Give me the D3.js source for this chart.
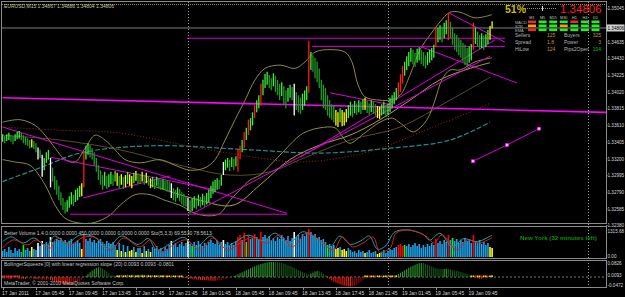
<!DOCTYPE html>
<html>
<head>
<meta charset="utf-8">
<script src="https://cdn.jsdelivr.net/npm/d3@7"></script>
<style>
  html, body { margin: 0; padding: 0; background: #000; }
  svg { display: block; }
  text { font-family: "Liberation Sans", Arial, sans-serif; }
</style>
</head>
<body>
<div id="chart"></div>
<script>
var width = 625, height = 297;

// EURUSD M15 bars, first bar 17 Jan 01:45
var barHigh = [
  1.3350,1.3348,1.3350,1.3352,1.3349,1.3348,1.3350,1.3353,1.3354,1.3352,
  1.3349,1.3347,1.3345,1.3343,1.3344,1.3342,1.3339,1.3334,1.3331,1.3325,
  1.3321,1.3328,1.3331,1.3321,1.3309,1.3299,1.3294,1.3287,1.3279,1.3272,
  1.3267,1.3269,1.3274,1.3279,1.3276,1.3282,1.3284,1.3287,1.3290,1.3328,
  1.3336,1.3339,1.3337,1.3333,1.3328,1.3321,1.3312,1.3306,1.3300,1.3304,
  1.3299,1.3301,1.3304,1.3300,1.3305,1.3303,1.3299,1.3301,1.3298,1.3300,
  1.3304,1.3301,1.3299,1.3303,1.3305,1.3302,1.3301,1.3304,1.3300,1.3303,1.3299,
  1.3296,1.3298,1.3295,1.3298,1.3296,1.3294,1.3295,1.3293,1.3294,1.3292,
  1.3290,1.3284,1.3282,1.3285,1.3283,1.3279,1.3277,1.3274,1.3272,1.3269,
  1.3271,1.3274,1.3272,1.3276,1.3273,1.3277,1.3274,1.3278,1.3282,1.3287,
  1.3292,1.3294,1.3296,1.3294,1.3300,1.3316,1.3319,1.3321,1.3319,1.3322,1.3320,
  1.3323,1.3331,1.3336,1.3343,1.3353,1.3358,1.3368,1.3370,1.3377,1.3386,
  1.3392,1.3398,1.3412,1.3417,1.3424,1.3427,1.3423,1.3419,1.3425,1.3422,
  1.3417,1.3412,1.3414,1.3409,1.3404,1.3407,1.3411,1.3408,1.3412,1.3402,
  1.3398,1.3395,1.3400,1.3404,1.3409,1.3465,1.3451,1.3447,1.3444,1.3439,
  1.3431,1.3417,1.3411,1.3407,1.3398,1.3392,1.3387,1.3385,1.3380,1.3377,
  1.3382,1.3380,1.3377,1.3381,1.3386,1.3390,1.3387,1.3391,1.3388,1.3392,
  1.3390,1.3393,1.3395,1.3391,1.3388,1.3392,1.3390,1.3387,1.3385,1.3384,1.3387,
  1.3390,1.3386,1.3388,1.3395,1.3398,1.3402,1.3407,1.3414,1.3424,1.3434,
  1.3439,1.3446,1.3451,1.3456,1.3454,1.3450,1.3455,1.3457,1.3454,1.3451,
  1.3447,1.3451,1.3454,1.3456,1.3460,1.3482,1.3481,1.3484,1.3482,1.3487,
  1.3490,1.3499,1.3488,1.3481,1.3474,1.3472,1.3468,1.3466,1.3462,1.3460,
  1.3456,1.3458,1.3461,1.3487,1.3481,1.3476,1.3472,1.3474,1.3471,1.3473,
  1.3478,1.3483,1.3489
];
var barLow = [
  1.3341,1.3339,1.3342,1.3343,1.3341,1.3338,1.3342,1.3344,1.3345,1.3343,
  1.3339,1.3337,1.3336,1.3333,1.3334,1.3332,1.3328,1.3319,1.3321,1.3298,
  1.3306,1.3315,1.3319,1.3285,1.3292,1.3282,1.3276,1.3269,1.3263,1.3257,
  1.3253,1.3255,1.3260,1.3264,1.3262,1.3267,1.3269,1.3273,1.3274,1.3285,
  1.3319,1.3325,1.3322,1.3319,1.3312,1.3304,1.3294,1.3288,1.3282,1.3287,
  1.3283,1.3285,1.3289,1.3287,1.3292,1.3287,1.3284,1.3288,1.3283,1.3285,
  1.3289,1.3287,1.3284,1.3290,1.3293,1.3289,1.3289,1.3292,1.3288,1.3290,1.3287,
  1.3284,1.3285,1.3283,1.3287,1.3284,1.3282,1.3283,1.3282,1.3280,1.3279,
  1.3272,1.3269,1.3267,1.3272,1.3268,1.3264,1.3262,1.3261,1.3256,1.3253,
  1.3256,1.3260,1.3258,1.3262,1.3260,1.3263,1.3261,1.3264,1.3267,1.3272,
  1.3277,1.3279,1.3282,1.3283,1.3287,1.3300,1.3306,1.3309,1.3305,1.3310,1.3306,
  1.3311,1.3304,1.3319,1.3328,1.3333,1.3343,1.3349,1.3355,1.3361,1.3370,
  1.3377,1.3382,1.3385,1.3398,1.3407,1.3411,1.3407,1.3404,1.3409,1.3402,
  1.3398,1.3392,1.3397,1.3386,1.3382,1.3390,1.3395,1.3392,1.3373,1.3380,
  1.3377,1.3375,1.3380,1.3385,1.3392,1.3401,1.3429,1.3427,1.3419,1.3414,
  1.3407,1.3392,1.3382,1.3380,1.3373,1.3370,1.3368,1.3365,1.3361,1.3359,
  1.3365,1.3360,1.3361,1.3365,1.3370,1.3373,1.3371,1.3376,1.3374,1.3377,
  1.3375,1.3380,1.3380,1.3376,1.3374,1.3377,1.3375,1.3373,1.3370,1.3369,1.3373,
  1.3375,1.3371,1.3374,1.3377,1.3382,1.3387,1.3392,1.3397,1.3402,1.3412,
  1.3422,1.3429,1.3434,1.3439,1.3436,1.3433,1.3438,1.3441,1.3436,1.3434,
  1.3431,1.3435,1.3438,1.3441,1.3444,1.3457,1.3463,1.3466,1.3463,1.3468,
  1.3473,1.3466,1.3468,1.3460,1.3454,1.3451,1.3447,1.3444,1.3439,1.3435,
  1.3433,1.3438,1.3441,1.3454,1.3461,1.3457,1.3454,1.3456,1.3454,1.3457,
  1.3461,1.3466,1.3480
];
// g normal, l green, y yellow, w white, r red (Better Volume colouring)
var barColors = [
  "gggggggggg","lgggyggwgw","gggwgggggg","ggggggggyr","gggggggggg","gggggygygy",
  "gyygyggygyg","yggggggggg","wgggggggwg","lggggggggg","gggggwggggg","grrgrlrggr",
  "ggrggggggg","ggggggggwg","gggggrgggg","gggglgggyy","gyyygggggg","ggygggggyyg",
  "gggggggrrr","lggggggggg","gggggrgggg","grglgggggg","gggrgggggg","gyy"
].join("");
var volumes = [
  282,376,235,470,329,188,423,282,376,235, 564,329,423,282,470,376,329,658,517,752,
  611,705,564,940,705,752,846,799,893,705, 799,658,752,846,611,705,799,658,376,1081,
  846,752,893,705,799,658,752,846,705,611, 752,658,611,705,564,329,658,282,564,235,
  517,282,329,470,235,423,423,188,517,282,376, 235,470,376,517,329,423,282,470,376,564,
  752,564,658,470,611,705,517,658,846,611, 517,705,564,752,611,517,658,564,705,799,
  658,611,752,564,705,799,611,705,517,658,564, 752,940,1034,799,1128,705,1034,846,893,1081,
  940,846,1175,940,1034,846,987,799,893,752, 940,846,1034,893,799,987,752,893,1175,940,
  1034,846,1081,987,1128,1315,1175,987,1081,893, 940,799,846,705,564,611,517,564,376,423,
  470,329,376,282,423,329,235,282,188,329, 235,282,188,235,329,188,235,282,141,188,235,
  329,188,282,376,329,423,470,564,611,517, 564,517,611,470,564,658,517,611,423,564,
  470,611,517,658,564,846,658,752,611,799, 705,1034,799,893,752,846,658,799,705,893,
  752,846,658,1034,752,658,799,611,705,564, 658,470,423
];
var sqzValues = [
  -0.008,-0.010,-0.009,-0.011,-0.012,-0.010,-0.009,-0.008,-0.010,-0.011,
  -0.012,-0.013,-0.011,-0.010,-0.009,-0.010,-0.012,-0.014,-0.013,-0.015,
  -0.014,-0.016,-0.015,-0.018,-0.022,-0.026,-0.030,-0.034,-0.038,-0.041,
  -0.044,-0.046,-0.047,-0.046,-0.044,-0.040,-0.034,-0.026,-0.017,-0.006,
  0.008,0.018,0.028,0.038,0.046,0.053,0.058,0.056,0.050,0.042,
  0.032,0.022,0.014,0.010,0.008,0.009,0.011,0.012,0.010,0.011,
  0.013,0.012,0.014,0.013,0.012,0.013,0.014,0.015,0.013,0.012,0.014,
  0.013,0.011,0.012,0.010,0.011,0.009,0.010,0.008,0.007,0.006,
  0.004,0.003,0.002,0.001,-0.001,-0.003,-0.005,-0.007,-0.009,-0.011,
  -0.013,-0.014,-0.015,-0.016,-0.017,-0.018,-0.019,-0.020,-0.021,-0.022,
  -0.022,-0.022,-0.021,-0.019,-0.017,-0.014,-0.011,-0.008,-0.005,-0.001,0.004,
  0.010,0.016,0.022,0.028,0.034,0.040,0.046,0.052,0.058,0.063,
  0.068,0.072,0.076,0.080,0.083,0.086,0.088,0.089,0.089,0.088,
  0.087,0.085,0.082,0.079,0.075,0.070,0.065,0.059,0.054,0.048,
  0.042,0.036,0.030,0.025,0.020,0.016,0.020,0.026,0.032,0.036,
  0.034,0.028,0.018,0.008,-0.004,-0.012,-0.019,-0.026,-0.032,-0.038,
  -0.043,-0.047,-0.050,-0.053,-0.055,-0.056,-0.055,-0.052,-0.046,-0.038,
  -0.028,-0.018,-0.010,-0.006,-0.004,-0.003,-0.003,-0.002,0.002,0.003,0.002,
  0.004,0.003,0.005,0.004,0.006,0.008,0.012,0.018,0.025,0.032,
  0.040,0.047,0.054,0.060,0.066,0.072,0.077,0.081,0.083,0.082,
  0.078,0.073,0.067,0.062,0.057,0.052,0.049,0.047,0.046,0.047,
  0.048,0.047,0.045,0.042,0.039,0.037,0.034,0.030,0.026,0.021,
  0.016,0.011,0.005,0.000,-0.004,-0.008,-0.010,-0.011,-0.009,-0.006,
  -0.002,0.004,0.0093
];
var sqzDotRanges = [[0, 8, "#ff3030"], [55, 86, "#e8e800"], [174, 189, "#e8e800"], [225, 235, "#e8e800"]];

// stochastic turning points [bar, value]
var stochMain = [[0,32],[5,61],[12,43],[16,61],[23,32],[26,68],[32,43],[39,71],[45,68],[52,25],[58,68],
  [66,36],[71,61],[76,18],[82,43],[88,61],[95,25],[101,68],[108,25],[114,50],[120,71],[127,50],[133,79],
  [139,36],[146,86],[152,61],[159,25],[163,71],[168,36],[173,50],[178,71],[181,18],[186,32],[189,86],
  [196,96],[204,71],[207,50],[211,79],[218,25],[223,61],[229,50],[235,69.6]];
var stochSignal = [[0,55],[4,72],[10,50],[15,68],[21,40],[25,75],[31,50],[37,78],[44,72],[50,30],[57,75],
  [65,45],[70,66],[74,25],[81,50],[87,70],[93,35],[100,75],[106,35],[112,55],[118,78],[125,58],[131,85],
  [137,45],[144,90],[150,70],[157,35],[162,75],[167,45],[172,58],[176,75],[180,28],[184,40],[188,88],
  [194,97],[202,80],[205,60],[210,85],[216,35],[221,65],[228,55],[235,78.6]];

// indicator curves [bar, price]
var bbUpper = [[0,1.3365],[8.4,1.3368],[15.6,1.3361],[20.4,1.3349],[25.2,1.3333],[30,1.3319],[34.8,1.3316],
  [39.6,1.3333],[44.4,1.3349],[49.2,1.3343],[54,1.3331],[58.8,1.3319],[66,1.3315],[75.6,1.3319],[82.8,1.3312],
  [90,1.3306],[97.2,1.3309],[102,1.3319],[106.8,1.3343],[111.6,1.3368],[116.4,1.3392],[121.2,1.3417],
  [126,1.3431],[133.2,1.3435],[140.4,1.3431],[145.2,1.3439],[150,1.3451],[157.2,1.3454],[164.4,1.3451],
  [167.7,1.3439],[170.6,1.3411],[174,1.3396],[181.2,1.3392],[186,1.3392],[190.8,1.3398],[195.6,1.3423],
  [200.4,1.3454],[205.2,1.3472],[210,1.3488],[214.8,1.3500],[219.6,1.3500],[226.8,1.3493],[235,1.3497]];
var bbLower = [[0,1.3319],[6,1.3316],[13.2,1.3312],[20.4,1.3288],[25.2,1.3263],[30,1.3247],[37.2,1.3241],
  [44.4,1.3242],[51.6,1.3251],[56.4,1.3263],[63.6,1.3276],[70.8,1.3276],[78,1.3269],[85.2,1.3263],
  [92.4,1.3253],[99.6,1.3250],[104.4,1.3253],[109.2,1.3269],[114,1.3282],[118.8,1.3294],[123.6,1.3300],
  [128.4,1.3312],[135.6,1.3331],[142.8,1.3349],[147.6,1.3355],[152.4,1.3358],[159.6,1.3358],[164.4,1.3343],
  [166.8,1.3339],[174,1.3352],[181.2,1.3365],[187,1.3370],[190.8,1.3364],[197,1.3353],[200.4,1.3358],
  [204.2,1.3370],[207.6,1.3392],[210.9,1.3417],[214.8,1.3429],[219.6,1.3429],[226.8,1.3439],[235,1.3444]];
var maLight = [[70.8,1.3288],[94.8,1.3269],[110.6,1.3263],[123.6,1.3288],[137.9,1.3319],[152.4,1.3337],
  [166.8,1.3349],[181.2,1.3368],[195.6,1.3392],[210,1.3417],[224.4,1.3431],[234,1.3438]];
var maBrown = [[0,1.3349],[27.6,1.3343],[56.4,1.3331],[85.2,1.3312],[109.2,1.3300],[128.4,1.3304],
  [142.8,1.3319],[166.8,1.3343],[190.8,1.3359],[214.8,1.3392],[234,1.3420]];
var maRed = [[0,1.3359],[27.6,1.3355],[54.9,1.3352],[94.8,1.3333],[123.6,1.3321],[142.8,1.3316],
  [174.9,1.3328],[206.6,1.3359],[234,1.3388]];
var maTeal = [[0,1.3292],[18,1.3309],[37.2,1.3327],[70.8,1.3336],[118.8,1.3331],[152.4,1.3327],
  [186,1.3333],[214.8,1.3343],[234,1.3365]];

// trend lines [bar1, price1, bar2, price2]
var trendLines = [
  [32.4,1.3252,136.5,1.3252], [0,1.3359,136.5,1.3253], [38.6,1.3272,80.4,1.3299],
  [22.8,1.3322,102,1.3282], [157.2,1.3401,187,1.3386], [91.4,1.3253,234,1.3446],
  [142.8,1.3322,236.4,1.3466], [200.4,1.3458,247,1.3413], [214.3,1.3499,241.2,1.3463],
  [88.5,1.3468,241.2,1.3468], [148.5,1.3458,241.2,1.3458]
];
var mainLevel = [0, 1.3395, 290, 1.3377];
var channelPoints = [[225.8,1.3317],[242.2,1.3337],[257.5,1.3357]];

var lastPrice = 1.34806;
var priceTicks = [1.35045,1.34635,1.34430,1.34225,1.34020,1.33815,1.33610,1.33405,1.33200,1.32995,1.32790,1.32585,1.32380];
var timeLabels = ["17 Jan 2011","17 Jan 05:45","17 Jan 09:45","17 Jan 13:45","17 Jan 17:45","17 Jan 21:45",
  "18 Jan 01:45","18 Jan 05:45","18 Jan 09:45","18 Jan 13:45","18 Jan 17:45","18 Jan 21:45",
  "19 Jan 01:45","19 Jan 05:45","19 Jan 09:45"];
var daySeparators = [89, 185, 281];

var tfNames = ["M1","M5","M15","M30","H1","H4","D1"];
var signalRows = [["MACD","rgggrgg"],["STR","oggoggg"],["EMA","rgggggg"]];
var statsLeft = [["Sellers","125"],["Spread","1.8"],["HiLow","124"]];
var statsRight = [["Buyers","325"],["Power","3"],["Pips2Open","104"]];

// ---- scales ----
var x = d3.scaleLinear().domain([0, 290]).range([2.6, 2.6 + 290 * 2.083]);
var y = d3.scaleLinear().domain([1.32380, 1.35045]).range([225.6, 8.5]);
var yVol = d3.scaleLinear().domain([0, 1315.68]).range([257, 229]);
var yStoch = d3.scaleLinear().domain([0, 100]).range([257, 229]);
var ySqz = d3.scaleLinear().domain([-0.0472, 0.0826]).range([285, 263]);

var svg = d3.select("#chart").append("svg")
  .attr("width", width).attr("height", height)
  .style("background", "#000");

var defs = svg.append("defs");
defs.append("clipPath").attr("id", "clipMain").append("rect")
  .attr("x", 2).attr("y", 2).attr("width", 604).attr("height", 221);
defs.append("clipPath").attr("id", "clipVol").append("rect")
  .attr("x", 2).attr("y", 227).attr("width", 604).attr("height", 31);
defs.append("clipPath").attr("id", "clipSqz").append("rect")
  .attr("x", 2).attr("y", 261).attr("width", 604).attr("height", 26);

// panel frames
[[1.5, 1.5, 223.5], [1.5, 226.5, 258.5], [1.5, 260.5, 287.5]].forEach(function (p) {
  svg.append("rect").attr("x", p[0]).attr("y", p[1])
    .attr("width", 605).attr("height", p[2] - p[1])
    .attr("fill", "none").attr("stroke", "#8a8a8a").attr("stroke-width", 1);
});

var main = svg.append("g").attr("clip-path", "url(#clipMain)");

main.append("line").attr("x1", 2).attr("x2", 606).attr("y1", 4.5).attr("y2", 4.5)
  .attr("stroke", "#8a8a4a").attr("stroke-dasharray", "1,1");

// day separators
svg.selectAll(".daysep").data(daySeparators).enter().append("line")
  .attr("x1", function (d) { return Math.round(x(d)) + 0.5; })
  .attr("x2", function (d) { return Math.round(x(d)) + 0.5; })
  .attr("y1", 2).attr("y2", 287)
  .attr("stroke", "#9a9a9a").attr("stroke-dasharray", "1,2");

// bid line
main.append("line").attr("x1", 2).attr("x2", 606)
  .attr("y1", y(lastPrice)).attr("y2", y(lastPrice))
  .attr("stroke", "#6f8585").attr("stroke-width", 1);

var curve = d3.line()
  .x(function (d) { return x(d[0]); })
  .y(function (d) { return y(d[1]); })
  .curve(d3.curveCatmullRom);

main.append("path").attr("d", curve(maTeal)).attr("fill", "none")
  .attr("stroke", "#238f8f").attr("stroke-width", 1.2).attr("stroke-dasharray", "5,2");
main.append("path").attr("d", curve(maRed)).attr("fill", "none")
  .attr("stroke", "#9a2a1a").attr("stroke-width", 1).attr("stroke-dasharray", "1,2");
main.append("path").attr("d", curve(maBrown)).attr("fill", "none")
  .attr("stroke", "#5e4a26").attr("stroke-width", 1);
main.append("path").attr("d", curve(maLight)).attr("fill", "none")
  .attr("stroke", "#a8a050").attr("stroke-width", 1);
[bbUpper, bbLower].forEach(function (band) {
  main.append("path").attr("d", curve(band)).attr("fill", "none")
    .attr("stroke", "#8c8a3c").attr("stroke-width", 1);
});

// trend lines
main.append("line")
  .attr("x1", x(mainLevel[0])).attr("y1", y(mainLevel[1]))
  .attr("x2", x(mainLevel[2])).attr("y2", y(mainLevel[3]))
  .attr("stroke", "#ff00ff").attr("stroke-width", 1.6);
main.selectAll(".trend").data(trendLines).enter().append("line")
  .attr("x1", function (d) { return x(d[0]); })
  .attr("y1", function (d) { return y(d[1]); })
  .attr("x2", function (d) { return x(d[2]); })
  .attr("y2", function (d) { return y(d[3]); })
  .attr("stroke", "#d800d8").attr("stroke-width", 1);

main.append("path")
  .attr("d", d3.line().x(function (d) { return x(d[0]); }).y(function (d) { return y(d[1]); })(channelPoints))
  .attr("fill", "none").attr("stroke", "#d800d8").attr("stroke-width", 1);
main.selectAll(".handle").data(channelPoints).enter().append("rect")
  .attr("x", function (d) { return x(d[0]) - 1.5; })
  .attr("y", function (d) { return y(d[1]) - 1.5; })
  .attr("width", 3).attr("height", 3)
  .attr("fill", "#ffb0ff").attr("stroke", "#ff00ff").attr("stroke-width", 0.6);

// price bars
var priceColor = { y: "#ffff00", w: "#ffffff", r: "#ff1a0a" };
main.selectAll(".bar").data(barHigh).enter().append("line")
  .attr("x1", function (d, i) { return x(i); })
  .attr("x2", function (d, i) { return x(i); })
  .attr("y1", function (d) { return y(d); })
  .attr("y2", function (d, i) { return y(barLow[i]); })
  .attr("stroke-width", 1.3)
  .attr("stroke", function (d, i) {
    var c = barColors[i];
    if (priceColor[c]) return priceColor[c];
    var mid = d + barLow[i], prev = i > 0 ? barHigh[i - 1] + barLow[i - 1] : mid;
    return mid >= prev ? "#3cf03c" : "#1f9a26";
  });

// volume panel
var volColor = { g: "#1ea0e6", l: "#00ff00", y: "#ffff00", w: "#ffffff", r: "#ff0000" };
var vol = svg.append("g").attr("clip-path", "url(#clipVol)");
vol.selectAll(".vbar").data(volumes).enter().append("rect")
  .attr("x", function (d, i) { return x(i) - 0.8; })
  .attr("width", 1.6)
  .attr("y", function (d) { return yVol(d); })
  .attr("height", function (d) { return yVol(0) - yVol(d); })
  .attr("fill", function (d, i) { return volColor[barColors[i]]; });

var stochLine = d3.line()
  .x(function (d) { return x(d[0]); })
  .y(function (d) { return yStoch(d[1]); })
  .curve(d3.curveCatmullRom);
vol.append("path").attr("d", stochLine(stochSignal)).attr("fill", "none")
  .attr("stroke", "#1fa0a0").attr("stroke-width", 1);
vol.append("path").attr("d", stochLine(stochMain)).attr("fill", "none")
  .attr("stroke", "#d42222").attr("stroke-width", 1);

// squeeze panel
var sqz = svg.append("g").attr("clip-path", "url(#clipSqz)");
sqz.append("line").attr("x1", 2).attr("x2", 606)
  .attr("y1", ySqz(0)).attr("y2", ySqz(0))
  .attr("stroke", "#7a7a7a").attr("stroke-dasharray", "2,2");
sqz.selectAll(".sbar").data(sqzValues).enter().append("line")
  .attr("x1", function (d, i) { return x(i); })
  .attr("x2", function (d, i) { return x(i); })
  .attr("y1", ySqz(0))
  .attr("y2", function (d) { return ySqz(d); })
  .attr("stroke-width", 1.1)
  .attr("stroke", function (d, i) {
    var prev = i > 0 ? sqzValues[i - 1] : d;
    if (d >= 0) return d >= prev ? "#2f9a2f" : "#145c14";
    return d <= prev ? "#ff1a00" : "#8a0a0a";
  });
sqzDotRanges.forEach(function (r) {
  sqz.selectAll(null).data(d3.range(r[0], r[1] + 1)).enter().append("rect")
    .attr("x", function (d) { return x(d) - 0.8; })
    .attr("y", ySqz(0) - 1.5)
    .attr("width", 1.6).attr("height", 1.6)
    .attr("fill", function (d, i) { return i % 3 === 2 ? "#d03030" : r[2]; });
});

// right axes
var axisText = "#d6d6d6";
var axisFont = 4.6;
svg.selectAll(".ptick").data(priceTicks).enter().append("text")
  .attr("x", 607.5).attr("y", function (d) { return y(d) + 1.7; })
  .attr("font-size", axisFont).attr("fill", axisText)
  .text(function (d) { return d.toFixed(5); });
svg.selectAll(".ptickmark").data(priceTicks).enter().append("line")
  .attr("x1", 606).attr("x2", 607.5)
  .attr("y1", function (d) { return y(d); }).attr("y2", function (d) { return y(d); })
  .attr("stroke", "#8a8a8a");
svg.append("rect").attr("x", 606.5).attr("y", y(lastPrice) - 3.5)
  .attr("width", 18).attr("height", 7).attr("fill", "#d0d0d0");
svg.append("text").attr("x", 607.5).attr("y", y(lastPrice) + 1.7)
  .attr("font-size", axisFont).attr("fill", "#000").text(lastPrice.toFixed(5));

[["1315.68", 231], ["0.00", 256]].forEach(function (t) {
  svg.append("text").attr("x", 607.5).attr("y", t[1] + 1.7)
    .attr("font-size", axisFont).attr("fill", axisText).text(t[0]);
});
[[0.0826, "0.0826"], [0.0093, "0.0093"], [-0.0472, "-0.0472"]].forEach(function (t) {
  svg.append("text").attr("x", 607.5).attr("y", ySqz(t[0]) + 1.7)
    .attr("font-size", axisFont).attr("fill", axisText).text(t[1]);
});

// time axis
svg.selectAll(".tlabel").data(timeLabels).enter().append("text")
  .attr("x", function (d, i) { return x(i * 16) - 0.6; })
  .attr("y", 295)
  .attr("font-size", 5).attr("fill", axisText)
  .text(function (d) { return d; });
svg.selectAll(".tmark").data(timeLabels).enter().append("line")
  .attr("x1", function (d, i) { return Math.round(x(i * 16)) + 0.5; })
  .attr("x2", function (d, i) { return Math.round(x(i * 16)) + 0.5; })
  .attr("y1", 288).attr("y2", 290)
  .attr("stroke", "#8a8a8a");

// labels
svg.append("text").attr("x", 4).attr("y", 8).attr("font-size", 5).attr("fill", "#c8c896")
  .text("EURUSD,M15  1.34867 1.34886 1.34804 1.34806");
svg.append("text").attr("x", 4).attr("y", 235).attr("font-size", 5).attr("fill", "#c4c4c4")
  .text("Better Volume 1.4 0.0000 0.0000 450.0000 0.0000 0.0000 0.0000  Sto(5,3,3) 69.5530  78.5613");
svg.append("text").attr("x", 520).attr("y", 240).attr("font-size", 6.2).attr("font-weight", "bold")
  .attr("fill", "#0c8c0c").text("New York  (32 minutes left)");
svg.append("text").attr("x", 4).attr("y", 266).attr("font-size", 5).attr("fill", "#c4c4c4")
  .text("BollingerSqueeze [0] with linear regression slope (20) 0.0093 0.0093 -0.0801");
svg.append("text").attr("x", 4).attr("y", 285).attr("font-size", 5).attr("fill", "#c4c4c4")
  .text("MetaTrader, \u00a9 2001-2010 MetaQuotes Software Corp.");

// info panel
svg.append("text").attr("x", 505).attr("y", 13).attr("font-size", 10.5).attr("font-weight", "bold")
  .attr("fill", "#c8bc00").text("51%");
svg.append("line").attr("x1", 525).attr("x2", 557).attr("y1", 8.5).attr("y2", 8.5)
  .attr("stroke", "#8a8a8a").attr("stroke-dasharray", "1,1");
svg.append("line").attr("x1", 542.5).attr("x2", 542.5).attr("y1", 6).attr("y2", 11)
  .attr("stroke", "#e0e0e0");
svg.append("text").attr("x", 560).attr("y", 12.5).attr("font-size", 11.5)
  .attr("fill", "#ff1e1e").text(lastPrice.toFixed(5));

var tfX = d3.scalePoint().domain(tfNames).range([528, 591.5]);
svg.selectAll(".tf").data(tfNames).enter().append("text")
  .attr("x", function (d) { return tfX(d) + 4; }).attr("y", 19.2)
  .attr("text-anchor", "middle").attr("font-size", 3.8).attr("fill", "#c8c8c8")
  .text(function (d) { return d; });
var sigColor = { r: "#f02a2a", g: "#22ee22", o: "#ff9a10" };
signalRows.forEach(function (row, r) {
  svg.append("text").attr("x", 515).attr("y", 23.5 + r * 4).attr("font-size", 4)
    .attr("fill", "#b0b0b0").text(row[0]);
  svg.selectAll(null).data(tfNames).enter().append("rect")
    .attr("x", function (d) { return tfX(d); })
    .attr("y", 20.5 + r * 4)
    .attr("width", 8).attr("height", 2.6)
    .attr("fill", function (d, i) { return sigColor[row[1][i]]; });
});
statsLeft.forEach(function (s, r) {
  svg.append("text").attr("x", 515).attr("y", 37 + r * 7).attr("font-size", 5)
    .attr("fill", "#b4b4b4").text(s[0]);
  svg.append("text").attr("x", 547).attr("y", 37 + r * 7).attr("font-size", 5)
    .attr("fill", "#c89a00").text(s[1]);
});
statsRight.forEach(function (s, r) {
  svg.append("text").attr("x", 564).attr("y", 37 + r * 7).attr("font-size", 5)
    .attr("fill", "#b4b4b4").text(s[0]);
  svg.append("text").attr("x", 601).attr("y", 37 + r * 7).attr("font-size", 5)
    .attr("text-anchor", "end")
    .attr("fill", r === 2 ? "#00c000" : "#c89a00").text(s[1]);
});
</script>
</body>
</html>
